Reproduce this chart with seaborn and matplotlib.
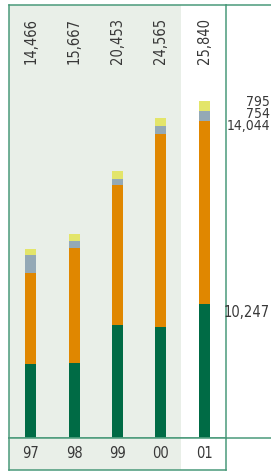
import matplotlib
matplotlib.use("Agg")
import matplotlib.pyplot as plt
import matplotlib.transforms as mtransforms
import numpy as np
import seaborn as sns

# data
years = ["97", "98", "99", "00", "01"]
green = [5680, 5750, 8670, 8510, 10247]
orange = [6946, 8837, 10713, 14835, 14044]
gray = [1380, 540, 460, 610, 754]
yellow = [460, 540, 610, 610, 795]
totals = ["14,466", "15,667", "20,453", "24,565", "25,840"]
last_labels = ["10,247", "14,044", "754", "795"]

line_col = "#4a9a7a"
shade = "#e9efe8"
text_col = "#383838"
colors = {"green": "#006b45", "orange": "#e08700", "gray": "#94a9b6", "yellow": "#e3e56a"}

sns.set_style("white")
plt.rcParams["font.family"] = ["DejaVu Sans"]
plt.rcParams["font.stretch"] = "condensed"
fs = 10.5

W, H = 271, 471
fig = plt.figure(figsize=(W / 100, H / 100), dpi=100)

def fx(px):
    return px / W

def fy(px):
    return 1 - px / H

left, right, top, base, bottom = 9, 226, 5, 438, 470
ax = fig.add_axes([fx(left), fy(base), fx(right - left), fy(top) - fy(base)])
lab = fig.add_axes([fx(left), fy(bottom), fx(right - left), fy(base) - fy(bottom)])

# stacked bars: draw cumulative heights from tallest down
g = np.array(green)
o = np.array(orange)
gr = np.array(gray)
y = np.array(yellow)
layers = [(g + o + gr + y, "yellow"), (g + o + gr, "gray"), (g + o, "orange"), (g, "green")]
for vals, name in layers:
    sns.barplot(x=years, y=vals, color=colors[name], width=0.253, ax=ax,
                saturation=1, edgecolor="none", linewidth=0)

ymax = (base - top) * 76.7
for a in (ax, lab):
    a.set_xlim(-0.5, 4.5)
    a.axvspan(-0.5, 3.46, color=shade, zorder=0, lw=0)
    a.set_xticks([])
    a.set_yticks([])
    a.set_xlabel("")
    a.set_ylabel("")
    for s in a.spines.values():
        s.set_color(line_col)
        s.set_linewidth(1.1)
ax.set_ylim(0, ymax)
lab.set_ylim(0, 1)

for i, yr in enumerate(years):
    lab.text(i, 0.5, yr, ha="center", va="center", fontsize=fs, color=text_col)
    ax.text(i, fy(41), totals[i], transform=mtransforms.blended_transform_factory(ax.transData, fig.transFigure),
            rotation=90, ha="center", va="center", fontsize=fs, color=text_col)

# extensions of the frame lines to the right edge
for yy in (top, base):
    fig.add_artist(plt.Line2D([fx(right), 1], [fy(yy), fy(yy)], color=line_col, lw=1.1))

# labels for the last bar on the right
tr = mtransforms.blended_transform_factory(fig.transFigure, ax.transData)
seg_tops = [g[-1], g[-1] + o[-1], g[-1] + o[-1] + gr[-1], g[-1] + o[-1] + gr[-1] + y[-1]]
ax.annotate(last_labels[0], xy=(fx(270), seg_tops[0]), xycoords=tr,
            xytext=(0, -6), textcoords="offset points", ha="right", va="center",
            fontsize=fs, color=text_col, annotation_clip=False)
# the three top labels are stacked one line apart below the bar top
for k, off in zip([3, 2, 1], [-0.7, -9.4, -18.1]):
    ax.annotate(last_labels[k], xy=(fx(270), seg_tops[3]), xycoords=tr,
                xytext=(0, off), textcoords="offset points", ha="right", va="center",
                fontsize=10, color=text_col, annotation_clip=False)

fig.savefig("out.png", dpi=100)
